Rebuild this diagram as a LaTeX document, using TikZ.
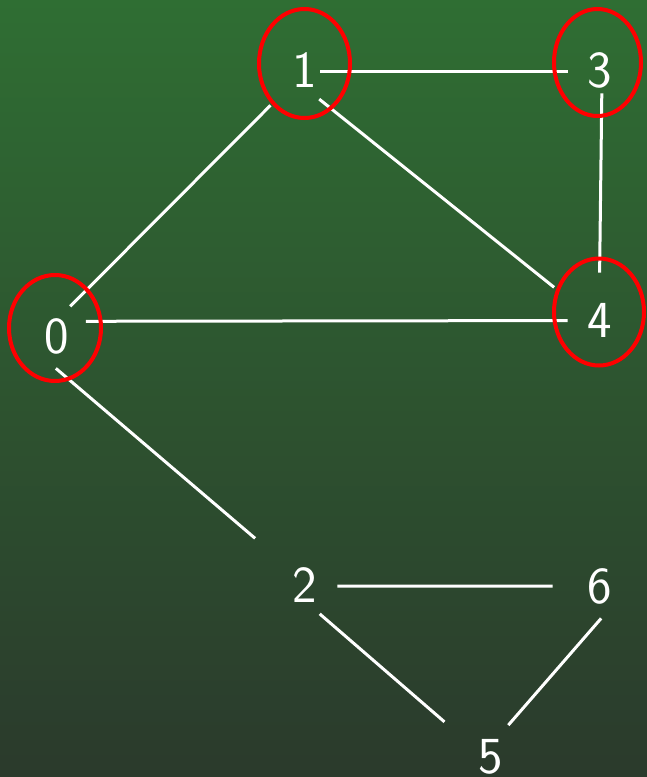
\documentclass[tikz,border=0pt]{standalone}
\usepackage{tikz}
\usetikzlibrary{calc}

\definecolor{bgtop}{RGB}{47,110,51}
\definecolor{bgbot}{RGB}{43,58,44}
\definecolor{ringred}{RGB}{255,0,0}

\begin{document}
\begin{tikzpicture}[
    x=0.5pt, y=-0.5pt,
    vtx/.style={circle, inner sep=0pt, minimum size=32pt, text=white, font=\sffamily\fontsize{26}{31}\selectfont},
    edge/.style={white, line width=1.5pt},
    ring/.style={ringred, line width=2pt}
]
% background
\shade[top color=bgtop, bottom color=bgbot] (0,0) rectangle (647,777);
\useasboundingbox (0,0) rectangle (647,777);

% vertices
\node[vtx] (v0) at (57,336) {0};
\node[vtx] (v1) at (305,70) {1};
\node[vtx] (v3) at (600,70) {3};
\node[vtx] (v4) at (600,320) {4};
\node[vtx] (v2) at (305,585) {2};
\node[vtx] (v6) at (600,586) {6};
\node[vtx] (v5) at (491,757) {5};

% edges
\draw[edge, shorten >=8.5pt] (v0.66) -- (v1.226);
\draw[edge] (v0.27) -- (v4.181);
\draw[edge, shorten >=18pt] (v0.268) -- (v2.134);
\draw[edge, shorten <=-8.5pt] (v1.-2) -- (v3.182);
\draw[edge, shorten >=12pt] (v1.-64) -- (v4.147);
\draw[edge, shorten <=-4.5pt, shorten >=7.5pt] (v3.-87) -- (v4.91);
\draw[edge, shorten >=7.5pt] (v2.-2) -- (v6.180);
\draw[edge, shorten >=13pt] (v2.-63) -- (v5.146);
\draw[edge, shorten >=2pt] (v6.-88) -- (v5.63);

% highlighted vertices
\draw[ring] (55,328) ellipse [x radius=46, y radius=53];
\draw[ring] (304.5,63.5) ellipse [x radius=45.5, y radius=54.5];
\draw[ring] (597.5,62.5) ellipse [x radius=43.5, y radius=53.5];
\draw[ring] (599,312) ellipse [x radius=45, y radius=53.5];
\end{tikzpicture}
\end{document}
